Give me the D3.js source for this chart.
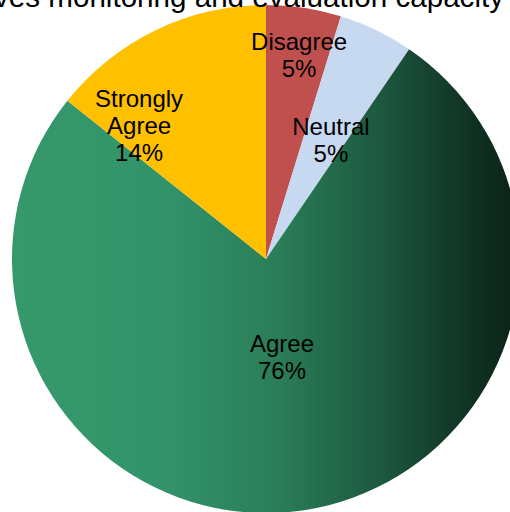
<!DOCTYPE html>
<html>
<head>
<meta charset="utf-8">
<script src="https://cdn.jsdelivr.net/npm/d3@7"></script>
<style>
  html, body { margin: 0; padding: 0; background: #fff; overflow: hidden; }
  svg { display: block; }
  text { font-family: "Liberation Sans", Arial, sans-serif; fill: #000; }
</style>
</head>
<body>
<svg id="chart" width="510" height="512"></svg>
<script>
// Survey responses (counts) and their display labels
const categories = ["Disagree", "Neutral", "Agree", "Strongly Agree"];
const counts = [2, 2, 32, 6];
const labelLines = [["Disagree"], ["Neutral"], ["Agree"], ["Strongly", "Agree"]];
const sliceColors = ["#c0504d", "#c6d9f0", "url(#agreeGrad)", "#ffc000"];
const title = "Improves monitoring and evaluation capacity";

// Label placement inside each slice: radius fraction and angle (degrees, clockwise from 12 o'clock)
const labelPlacement = [
  { r: 0.814, angle: 9.2 },
  { r: 0.534, angle: 28.6 },
  { r: 0.39, angle: 170.7 },
  { r: 0.726, angle: 316.5 }
];

const svg = d3.select("#chart");
const cx = 266, cy = 259, radius = 254;

const g = svg.append("g").attr("transform", `translate(${cx},${cy})`);

// Horizontal gradient for the large "Agree" slice (coordinates in the group's space)
const defs = svg.append("defs");
const grad = defs.append("linearGradient")
  .attr("id", "agreeGrad")
  .attr("gradientUnits", "userSpaceOnUse")
  .attr("x1", -radius).attr("y1", 0)
  .attr("x2", radius).attr("y2", 0);
[[0, "#36996b"], [0.3, "#32936a"], [0.52, "#2a7e58"], [0.72, "#1d5940"], [0.86, "#133a29"], [1, "#0a2116"]]
  .forEach(([o, c]) => grad.append("stop").attr("offset", o).attr("stop-color", c));

const total = d3.sum(counts);
const pie = d3.pie().value(d => d).sort(null);
const arcs = pie(counts);
const arc = d3.arc().innerRadius(0).outerRadius(radius);

g.selectAll("path.slice")
  .data(arcs)
  .join("path")
  .attr("class", "slice")
  .attr("d", arc)
  .attr("fill", (d, i) => sliceColors[i]);

const fontSize = 24, lineH = 27;
arcs.forEach((a, i) => {
  const p = labelPlacement[i];
  const ang = p.angle * Math.PI / 180;
  const x = Math.sin(ang) * p.r * radius;
  const y = -Math.cos(ang) * p.r * radius;
  const lines = labelLines[i].concat([d3.format(".0%")(a.value / total)]);
  const t = g.append("text")
    .attr("text-anchor", "middle")
    .attr("font-size", fontSize);
  const y0 = y - (lines.length - 1) * lineH / 2 + fontSize * 0.36;
  lines.forEach((ln, k) => {
    t.append("tspan").attr("x", x).attr("y", y0 + k * lineH).text(ln);
  });
});

// Chart title (wider than the frame, clipped on the left)
svg.append("text")
  .attr("x", 504).attr("y", 7)
  .attr("text-anchor", "end")
  .attr("font-size", 29.6)
  .text(title);
</script>
</body>
</html>
